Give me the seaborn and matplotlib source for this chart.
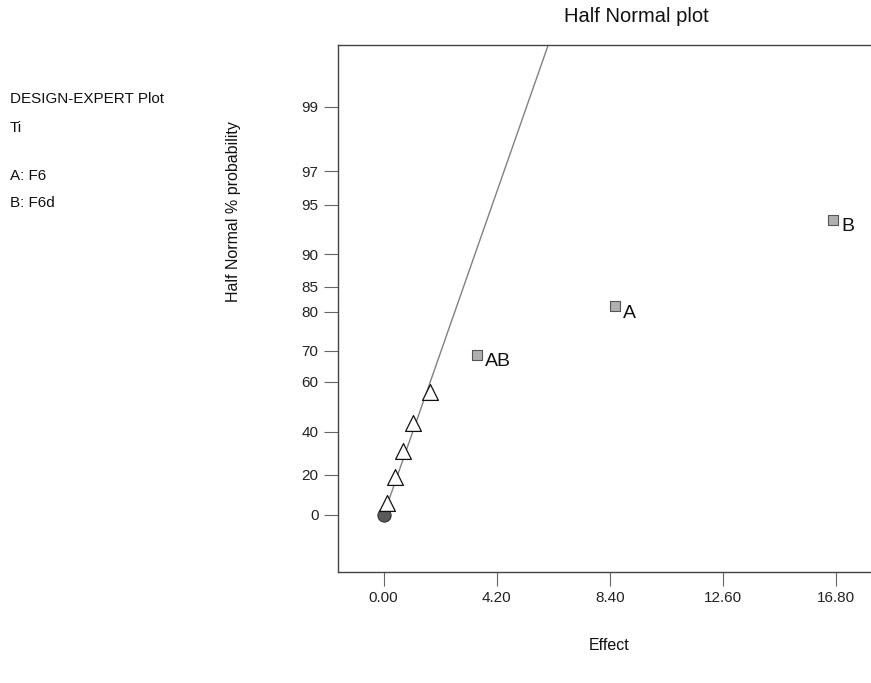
import matplotlib
matplotlib.use("Agg")
import matplotlib.pyplot as plt
import seaborn as sns
import pandas as pd
from statistics import NormalDist

# ---- data ----
term_labels = ["", "", "", "", "", "", "AB", "A", "B"]
term_kind = ["zero", "error", "error", "error", "error", "error", "effect", "effect", "effect"]
effects = [0.0, 0.11, 0.41, 0.71, 1.08, 1.71, 3.46, 8.59, 16.69]
half_normal_pct = [0.0, 6.25, 18.75, 31.25, 43.75, 56.25, 68.75, 81.25, 93.75]
y_tick_pct = [0, 20, 40, 60, 70, 80, 85, 90, 95, 97, 99]
x_ticks = [0.00, 4.20, 8.40, 12.60, 16.80]
line_slope = 2.06  # effect per unit half-normal quantile

left_text = ["DESIGN-EXPERT Plot", "Ti", "", "A: F6", "B: F6d"]

nd = NormalDist()
def hn(p):
    return nd.inv_cdf(0.5 + p / 200.0)

df = pd.DataFrame({
    "effect": effects,
    "z": [hn(p) for p in half_normal_pct],
    "kind": term_kind,
    "label": term_labels,
})

sns.set_theme(style="white")
plt.rcParams["font.family"] = ["Liberation Sans", "DejaVu Sans"]

fig = plt.figure(figsize=(8.71, 6.83), dpi=100)
ax = fig.add_axes([338 / 871, 1 - 572 / 683, 1 - 338 / 871, (572 - 45) / 683])

ylo, yhi = -0.36, 2.967
xlo, xhi = -1.695, 18.1

# fitted line
ax.plot([0, line_slope * yhi], [0, yhi], color="#808080", lw=1.0, zorder=1)

sns.scatterplot(data=df[df.kind == "zero"], x="effect", y="z", marker="o", s=90,
                color="#5a5a5a", edgecolor="#333333", linewidth=0.8, ax=ax, zorder=3)
sns.scatterplot(data=df[df.kind == "error"], x="effect", y="z", marker="^", s=130,
                color="white", edgecolor="#111111", linewidth=0.9, ax=ax, zorder=3)
sns.scatterplot(data=df[df.kind == "effect"], x="effect", y="z", marker="s", s=45,
                color="#b0b0b0", edgecolor="#555555", linewidth=0.8, ax=ax, zorder=3)

for _, r in df[df.kind == "effect"].iterrows():
    ax.annotate(r["label"], (r["effect"], r["z"]), xytext=(6, -5), textcoords="offset points",
                ha="left", va="center", fontsize=14, color="#111111")

ax.set_xlim(xlo, xhi)
ax.set_ylim(ylo, yhi)
ax.set_xticks(x_ticks)
ax.set_xticklabels([f"{v:.2f}" for v in x_ticks])
ax.set_yticks([hn(p) for p in y_tick_pct])
ax.set_yticklabels([str(p) for p in y_tick_pct])
ax.tick_params(axis="both", direction="out", length=10, width=0.8, color="#666666",
               labelsize=11, labelcolor="#222222", pad=4, left=True, bottom=True)
ax.set_xlabel("")
ax.set_ylabel("")
for s in ["left", "bottom", "top"]:
    ax.spines[s].set_color("#444444")
    ax.spines[s].set_linewidth(1.0)
ax.spines["right"].set_visible(False)

fig.text(636 / 871, 1 - 17 / 683, "Half Normal plot", ha="center", va="center", fontsize=14.5, color="#111111")
fig.text(609 / 871, 1 - 645 / 683, "Effect", ha="center", va="center", fontsize=11.5, color="#111111")
fig.text(233 / 871, 1 - 212 / 683, "Half Normal % probability", rotation=90,
         ha="center", va="center", fontsize=11.5, color="#111111")

ys = [99, 128, 152, 176, 203]
for t, yy in zip(left_text, ys):
    if t:
        fig.text(10 / 871, 1 - yy / 683, t, ha="left", va="center", fontsize=11, color="#111111")

fig.savefig("out.png", dpi=100)
